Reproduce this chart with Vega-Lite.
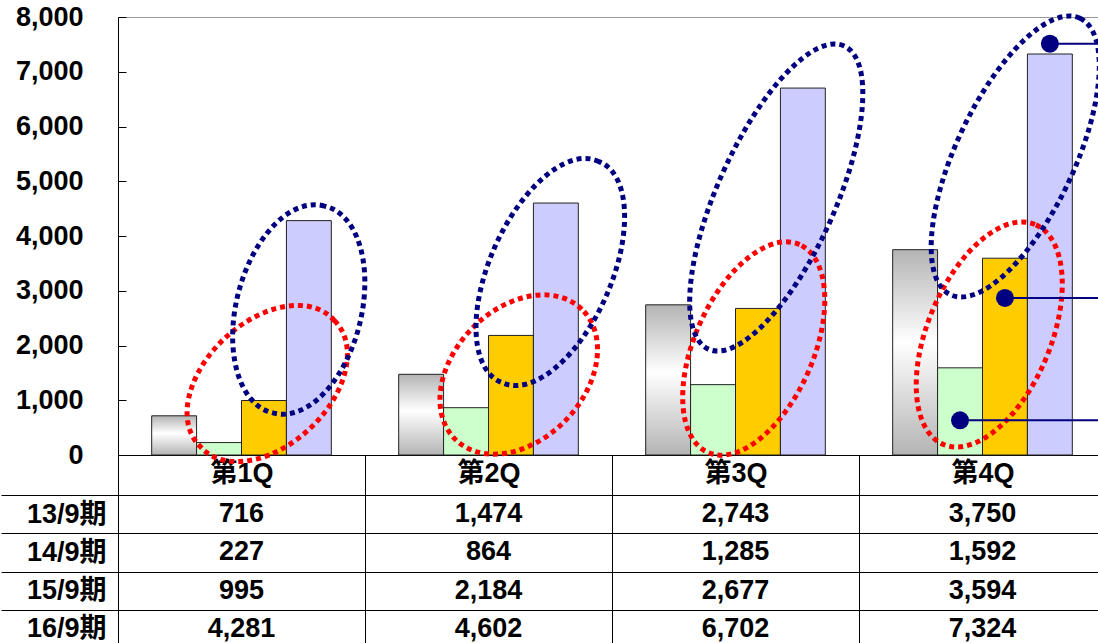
{
  "$schema": "https://vega.github.io/schema/vega-lite/v6.json",
  "padding": {"left": 0, "top": 2, "right": 0, "bottom": 0},
  "spacing": 40,
  "bounds": "flush",
  "background": "white",
  "config": {
    "view": {"stroke": null},
    "font": "'Liberation Sans', 'Noto Sans CJK JP'",
    "axis": {"labelFont": "'Liberation Sans', 'Noto Sans CJK JP'"}
  },
  "datasets": {
    "bars": [
      {"quarter": "第1Q", "series": "13/9期", "value": 716},
      {"quarter": "第1Q", "series": "14/9期", "value": 227},
      {"quarter": "第1Q", "series": "15/9期", "value": 995},
      {"quarter": "第1Q", "series": "16/9期", "value": 4281},
      {"quarter": "第2Q", "series": "13/9期", "value": 1474},
      {"quarter": "第2Q", "series": "14/9期", "value": 864},
      {"quarter": "第2Q", "series": "15/9期", "value": 2184},
      {"quarter": "第2Q", "series": "16/9期", "value": 4602},
      {"quarter": "第3Q", "series": "13/9期", "value": 2743},
      {"quarter": "第3Q", "series": "14/9期", "value": 1285},
      {"quarter": "第3Q", "series": "15/9期", "value": 2677},
      {"quarter": "第3Q", "series": "16/9期", "value": 6702},
      {"quarter": "第4Q", "series": "13/9期", "value": 3750},
      {"quarter": "第4Q", "series": "14/9期", "value": 1592},
      {"quarter": "第4Q", "series": "15/9期", "value": 3594},
      {"quarter": "第4Q", "series": "16/9期", "value": 7324}
    ],
    "ellipses": [
      {"quarter": "第1Q", "name": "r1", "value": 1306},
      {"quarter": "第1Q", "name": "b1", "value": 2658},
      {"quarter": "第2Q", "name": "r2", "value": 1470},
      {"quarter": "第2Q", "name": "b2", "value": 3342},
      {"quarter": "第3Q", "name": "r3", "value": 1945},
      {"quarter": "第3Q", "name": "b3", "value": 4703},
      {"quarter": "第4Q", "name": "r4", "value": 2201},
      {"quarter": "第4Q", "name": "b4", "value": 5452}
    ],
    "callouts": [
      {"quarter": "第4Q", "series": "16/9期", "value": 7512},
      {"quarter": "第4Q", "series": "15/9期", "value": 2868},
      {"quarter": "第4Q", "series": "14/9期", "value": 634}
    ]
  },
  "vconcat": [
    {
      "width": 988,
      "height": 438,
      "view": {"stroke": "#999999"},
      "encoding": {
        "x": {
          "field": "quarter", "type": "nominal",
          "sort": ["第1Q", "第2Q", "第3Q", "第4Q"],
          "scale": {"paddingInner": 0, "paddingOuter": 0},
          "axis": {
            "title": null, "orient": "bottom", "tickBand": "extent", "tickSize": 40,
            "tickColor": "#000000", "domainColor": "#000000", "labelPadding": -22,
            "labelBaseline": "middle", "labelFontSize": 27, "labelFontWeight": "bold",
            "labelColor": "#000000", "labelAngle": 0, "grid": false
          }
        },
        "y": {
          "field": "value", "type": "quantitative",
          "scale": {"domain": [0, 8000], "nice": false},
          "axis": {
            "title": null, "values": [0, 1000, 2000, 3000, 4000, 5000, 6000, 7000, 8000],
            "format": ",.0f", "tickSize": -8, "labelPadding": 43, "tickColor": "#000000",
            "domainColor": "#000000", "labelFontSize": 27, "labelFontWeight": "bold",
            "labelColor": "#000000", "grid": false
          }
        }
      },
      "layer": [
        {
          "data": {"name": "bars"},
          "transform": [{"filter": "datum.series === '13/9期'"}],
          "mark": {
            "type": "bar", "stroke": "#222222", "strokeWidth": 1,
            "fill": {"gradient": "linear", "x1": 0, "y1": 0, "x2": 0, "y2": 1,
              "stops": [{"offset": 0, "color": "#b4b4b4"}, {"offset": 0.45, "color": "#ffffff"}, {"offset": 1, "color": "#b4b4b4"}]}
          },
          "encoding": {
            "xOffset": {"field": "series", "type": "nominal",
              "scale": {"domain": ["13/9期", "14/9期", "15/9期", "16/9期"], "paddingInner": 0, "paddingOuter": 0.75}}
          }
        },
        {
          "data": {"name": "bars"},
          "transform": [{"filter": "datum.series !== '13/9期'"}],
          "mark": {"type": "bar", "stroke": "#222222", "strokeWidth": 1},
          "encoding": {
            "xOffset": {"field": "series", "type": "nominal",
              "scale": {"domain": ["13/9期", "14/9期", "15/9期", "16/9期"], "paddingInner": 0, "paddingOuter": 0.75}},
            "fill": {"field": "series", "type": "nominal",
              "scale": {"domain": ["14/9期", "15/9期", "16/9期"], "range": ["#ccffcc", "#ffcc00", "#ccccff"]},
              "legend": null}
          }
        },
        {
          "data": {"name": "ellipses"},
          "transform": [{"filter": "datum.name === 'r1'"}],
          "mark": {"type": "point", "size": 4, "filled": false, "opacity": 1, "stroke": "#ff0000", "strokeWidth": 5, "strokeDash": [5, 4],
            "shape": "M 93 -62.7 A 92 60 -43 1 0 -41.5 62.7 A 92 60 -43 1 0 93 -62.7 Z"}
        },
        {
          "data": {"name": "ellipses"},
          "transform": [{"filter": "datum.name === 'r2'"}],
          "mark": {"type": "point", "size": 4, "filled": false, "opacity": 1, "stroke": "#ff0000", "strokeWidth": 5, "strokeDash": [5, 4],
            "shape": "M 93.3 -65.2 A 90.7 65.3 -46 1 0 -32.8 65.2 A 90.7 65.3 -46 1 0 93.3 -65.2 Z"}
        },
        {
          "data": {"name": "ellipses"},
          "transform": [{"filter": "datum.name === 'r3'"}],
          "mark": {"type": "point", "size": 4, "filled": false, "opacity": 1, "stroke": "#ff0000", "strokeWidth": 5, "strokeDash": [5, 4],
            "shape": "M 64.1 -103.9 A 113.5 59.3 -66.2 1 0 -27.6 103.9 A 113.5 59.3 -66.2 1 0 64.1 -103.9 Z"}
        },
        {
          "data": {"name": "ellipses"},
          "transform": [{"filter": "datum.name === 'r4'"}],
          "mark": {"type": "point", "size": 4, "filled": false, "opacity": 1, "stroke": "#ff0000", "strokeWidth": 5, "strokeDash": [5, 4],
            "shape": "M 52.5 -110 A 119.1 61.6 -67.4 1 0 -39 110 A 119.1 61.6 -67.4 1 0 52.5 -110 Z"}
        },
        {
          "data": {"name": "ellipses"},
          "transform": [{"filter": "datum.name === 'b1'"}],
          "mark": {"type": "point", "size": 4, "filled": false, "opacity": 1, "stroke": "#000080", "strokeWidth": 5, "strokeDash": [5, 4],
            "shape": "M 83.1 -103.4 A 106.6 61.5 -76 1 0 31.4 103.4 A 106.6 61.5 -76 1 0 83.1 -103.4 Z"}
        },
        {
          "data": {"name": "ellipses"},
          "transform": [{"filter": "datum.name === 'b2'"}],
          "mark": {"type": "point", "size": 4, "filled": false, "opacity": 1, "stroke": "#000080", "strokeWidth": 5, "strokeDash": [5, 4],
            "shape": "M 110.5 -110.4 A 120.7 59.4 -66.2 1 0 13.1 110.4 A 120.7 59.4 -66.2 1 0 110.5 -110.4 Z"}
        },
        {
          "data": {"name": "ellipses"},
          "transform": [{"filter": "datum.name === 'b3'"}],
          "mark": {"type": "point", "size": 4, "filled": false, "opacity": 1, "stroke": "#000080", "strokeWidth": 5, "strokeDash": [5, 4],
            "shape": "M 108.6 -151.6 A 166 58.9 -65.9 1 0 -27.1 151.6 A 166 58.9 -65.9 1 0 108.6 -151.6 Z"}
        },
        {
          "data": {"name": "ellipses"},
          "transform": [{"filter": "datum.name === 'b4'"}],
          "mark": {"type": "point", "size": 4, "filled": false, "opacity": 1, "stroke": "#000080", "strokeWidth": 5, "strokeDash": [5, 4],
            "shape": "M 97.5 -138.2 A 152.6 59.2 -64.9 1 0 -32 138.2 A 152.6 59.2 -64.9 1 0 97.5 -138.2 Z"}
        },
        {
          "data": {"name": "callouts"},
          "mark": {"type": "rule", "color": "#000080", "strokeWidth": 2},
          "encoding": {
            "xOffset": {"field": "series", "type": "nominal",
              "scale": {"domain": ["13/9期", "14/9期", "15/9期", "16/9期"], "paddingInner": 0, "paddingOuter": 0.75}},
            "x2": {"value": "width"}
          }
        },
        {
          "data": {"name": "callouts"},
          "mark": {"type": "point", "shape": "circle", "filled": true, "opacity": 1, "color": "#000080", "size": 324},
          "encoding": {
            "xOffset": {"field": "series", "type": "nominal",
              "scale": {"domain": ["13/9期", "14/9期", "15/9期", "16/9期"], "paddingInner": 0, "paddingOuter": 0.75}}
          }
        }
      ]
    },
    {
      "width": 988,
      "height": 153,
      "data": {"name": "bars"},
      "mark": {"type": "text", "fontSize": 27, "fontWeight": "bold", "color": "#000000"},
      "encoding": {
        "x": {
          "field": "quarter", "type": "nominal",
          "sort": ["第1Q", "第2Q", "第3Q", "第4Q"],
          "scale": {"paddingInner": 0, "paddingOuter": 0},
          "axis": {"orient": "top", "title": null, "labels": false, "domain": false, "grid": false,
            "ticks": true, "tickBand": "extent", "tickSize": -153, "tickColor": "#000000", "tickWidth": 1, "tickOpacity": 1}
        },
        "y": {
          "field": "series", "type": "nominal",
          "sort": ["13/9期", "14/9期", "15/9期", "16/9期"],
          "scale": {"paddingInner": 0, "paddingOuter": 0},
          "axis": {"title": null, "tickBand": "extent", "tickSize": 117, "tickColor": "#000000",
            "labelPadding": -105, "grid": true, "gridColor": "#000000", "gridOpacity": 1, "domain": false,
            "labelFontSize": 27, "labelFontWeight": "bold", "labelColor": "#000000"}
        },
        "text": {"field": "value", "type": "quantitative", "format": ","}
      }
    }
  ]
}
